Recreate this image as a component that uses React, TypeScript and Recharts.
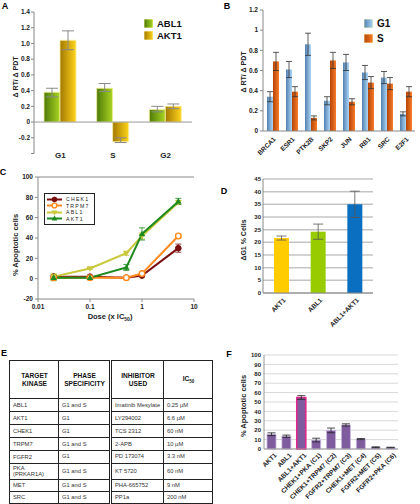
import React from 'react';
import {
  BarChart,
  Bar,
  LineChart,
  Line,
  XAxis,
  YAxis,
  CartesianGrid,
  ErrorBar,
  ReferenceLine,
  Legend,
  Cell,
} from 'recharts';

const FONT = '"Liberation Sans", Arial, Helvetica, sans-serif';

// ---- Panel A : delta RT / delta PDT per phase
const phasesA = ['G1', 'S', 'G2'];
const ablA = [0.38, 0.43, 0.16];
const ablAErr = [[0.06, 0.05], [0.04, 0.06], [0.03, 0.04]];
const aktA = [1.04, -0.25, 0.2];
const aktAErr = [[0.12, 0.12], [0.01, 0.05], [0.03, 0.03]];
const ticksA = [-0.4, -0.2, 0, 0.2, 0.4, 0.6, 0.8, 1.0, 1.2, 1.4];

// ---- Panel B : genes, G1 vs S
const genesB = ['BRCA1', 'ESR1', 'PTK2B', 'SKP2', 'JUN', 'RB1', 'SRC', 'E2F1'];
const g1B = [0.34, 0.61, 0.86, 0.3, 0.68, 0.58, 0.53, 0.17];
const g1BErr = [0.05, 0.08, 0.11, 0.04, 0.08, 0.07, 0.06, 0.02];
const sB = [0.69, 0.39, 0.13, 0.7, 0.29, 0.48, 0.47, 0.39];
const sBErr = [0.09, 0.05, 0.02, 0.08, 0.03, 0.06, 0.06, 0.05];
const ticksB = [0, 0.2, 0.4, 0.6, 0.8, 1, 1.2];

// ---- Panel C : dose response (% apoptotic cells)
const seriesC = ['CHEK1', 'TRPM7', 'ABL1', 'AKT1'];
const doseC = [0.02, 0.1, 0.5, 1, 5];
const chek1C = [2, 2, 1, 3, 30];
const chek1CErr = [1, 1, 1, 1, 4];
const trpm7C = [1, 1, 1, 5, 42];
const trpm7CErr = [1, 1, 1, 1, 2];
const abl1C = [2, 10, 25, 42, 75];
const abl1CErr = [3, 1, 2, 3, 2];
const akt1C = [1, 1, 11, 44, 76];
const akt1CErr = [3, 1, 3, 6, 3];
const ticksCx = [0.01, 0.1, 1, 10];
const ticksCy = [-20, 0, 20, 40, 60, 80, 100];

// ---- Panel D : delta G1 % cells
const condD = ['AKT1', 'ABL1', 'ABL1+AKT1'];
const valD = [21.7, 24.2, 35.0];
const errD = [0.8, 3.0, 5.2];
const colD = ['#ffcc00', '#99cc00', '#0a6fc0'];
const ticksD = [0, 5, 10, 15, 20, 25, 30, 35, 40, 45];

// ---- Panel E : table
const kinasesE = ['ABL1', 'AKT1', 'CHEK1', 'TRPM7', 'FGFR2', 'PKA\n(PRKAR1A)', 'MET', 'SRC'];
const phaseE = ['G1 and S', 'G1', 'G1', 'G1 and S', 'G1', 'G1 and S', 'G1 and S', 'G1 and S'];
const inhibE = ['Imatinib Mesylate', 'LY294002', 'TCS 2312', '2-APB', 'PD 173074', 'KT 5720', 'PHA-665752', 'PP1a'];
const ic50E = ['0.25 µM', '6.6 µM', '60 nM', '10 µM', '3.3 nM', '60 nM', '9 nM', '200 nM'];

// ---- Panel F : combinations, % apoptotic cells
const combF = ['AKT1', 'ABL1', 'ABL1+AKT1', 'CHEK1+PKA (C1)', 'CHEK1+TRPM7 (C2)', 'FGFR2+TRPM7 (C3)', 'CHEK1+MET (C4)', 'FGFR2+MET (C5)', 'FGFR2+PKA (C6)'];
const valF = [15.7, 13.6, 54.8, 9.5, 19.8, 25.6, 10.6, 1.9, 1.6];
const errF = [1.5, 1.2, 2.0, 2.0, 2.5, 1.2, 0.6, 0.4, 0.3];
const ticksF = [0, 10, 20, 30, 40, 50, 60, 70, 80, 90, 100];

const dataA = phasesA.map((p, i) => ({ phase: p, ABL1: ablA[i], ablErr: ablAErr[i], AKT1: aktA[i], aktErr: aktAErr[i] }));
const dataB = genesB.map((g, i) => ({ gene: g, G1: g1B[i], g1Err: g1BErr[i], S: sB[i], sErr: sBErr[i] }));
const dataC = doseC.map((d, i) => ({
  dose: d,
  CHEK1: chek1C[i], chek1Err: chek1CErr[i],
  TRPM7: trpm7C[i], trpm7Err: trpm7CErr[i],
  ABL1: abl1C[i], abl1Err: abl1CErr[i],
  AKT1: akt1C[i], akt1Err: akt1CErr[i],
}));
const dataD = condD.map((c, i) => ({ cond: c, value: valD[i], err: errD[i] }));
const dataF = combF.map((c, i) => ({ comb: c, value: valF[i], err: errF[i] }));

const tickStyle = (fs: number) => ({ fontSize: fs, fontWeight: 'bold' as const, fill: '#222', fontFamily: FONT });

// rotated category labels (end of text sits under the band)
const rotTick = (fs: number, dx: number, dy: number) => (props: any) => {
  const { x, y, payload } = props;
  return (
    <g transform={`translate(${x + dx},${y + dy})`}>
      <text transform="rotate(-45)" textAnchor="end" dy="0.35em" fontSize={fs} fontWeight="bold" fontFamily={FONT} fill="#222">
        {payload.value}
      </text>
    </g>
  );
};

const catTickA = (props: any) => {
  const { x, y, payload } = props;
  return (
    <text x={x} y={y} dy={4} textAnchor="middle" fontSize={8} fontWeight="bold" fontFamily={FONT} fill="#222">
      {payload.value}
    </text>
  );
};

// square legend used by A and B
const SquareLegend = ({ payload, row, sq, fs }: any) => (
  <div style={{ fontFamily: FONT }}>
    {(payload || []).map((p: any) => (
      <div key={p.value} style={{ display: 'flex', alignItems: 'center', height: row }}>
        <svg width={sq} height={sq} style={{ display: 'block', marginRight: 4 }}>
          <rect x={0} y={0} width={sq} height={sq} fill={p.color} stroke="#fff7b0" strokeWidth={0.8} />
        </svg>
        <span style={{ fontSize: fs, fontWeight: 'bold', color: '#111' }}>{p.value}</span>
      </div>
    ))}
  </div>
);

const Title = ({ x, y, text, fs = 7, rot = true, weight = 'bold' }: any) => (
  <div
    style={{
      position: 'absolute', left: x, top: y, whiteSpace: 'nowrap', fontSize: fs, fontWeight: weight,
      color: '#222', fontFamily: FONT,
      transform: `translate(-50%,-50%)${rot ? ' rotate(-90deg)' : ''}`,
    }}
  >
    {text}
  </div>
);

const PanelLetter = ({ x, y, l }: any) => (
  <div style={{ position: 'absolute', left: x, top: y, fontSize: 9, fontWeight: 'bold', fontFamily: FONT, lineHeight: 1, transform: 'translate(-50%,-50%)' }}>{l}</div>
);

function PanelA() {
  return (
    <div style={{ position: 'absolute', left: 0, top: 0, width: 200, height: 170 }}>
      <BarChart width={200} height={170} data={dataA} margin={{ top: 12, right: 8, left: 4, bottom: 2 }} barGap={0} barCategoryGap="20%">
        <defs>
          <linearGradient id="gA_abl" x1="0" y1="0" x2="1" y2="0">
            <stop offset="0%" stopColor="#4c7a08" />
            <stop offset="100%" stopColor="#acd622" />
          </linearGradient>
          <linearGradient id="gA_akt" x1="0" y1="0" x2="1" y2="0">
            <stop offset="0%" stopColor="#a27800" />
            <stop offset="100%" stopColor="#ffd41c" />
          </linearGradient>
        </defs>
        <YAxis
          type="number" domain={[-0.4, 1.4]} ticks={ticksA} interval={0} width={30} allowDataOverflow
          tickFormatter={(v: number) => (Math.abs(v) < 1e-9 ? '0' : Math.abs(v + 0.4) < 1e-9 ? '' : v.toFixed(1))}
          tick={tickStyle(6.5)} tickSize={3} tickMargin={1}
          axisLine={{ stroke: '#888' }} tickLine={{ stroke: '#888' }}
        />
        <XAxis dataKey="phase" axisLine={false} tickLine={false} tickSize={0} tickMargin={0} height={14.5} tick={catTickA} interval={0} />
        <ReferenceLine y={0} stroke="#999" />
        <Bar dataKey="ABL1" name="ABL1" fill="url(#gA_abl)" stroke="#f8f0a0" strokeWidth={0.8} barSize={16} isAnimationActive={false}>
          <ErrorBar dataKey="ablErr" width={6} stroke="#8a8a8a" strokeWidth={1} />
        </Bar>
        <Bar dataKey="AKT1" name="AKT1" fill="url(#gA_akt)" stroke="#f8f0a0" strokeWidth={0.8} barSize={16} isAnimationActive={false}>
          <ErrorBar dataKey="aktErr" width={6} stroke="#8a8a8a" strokeWidth={1} />
        </Bar>
        <Legend
          layout="vertical" align="center" verticalAlign="middle"
          wrapperStyle={{ left: 144, top: 17, width: 50 }}
          content={(p: any) => <SquareLegend payload={p.payload} row={12} sq={9} fs={9.5} />}
        />
      </BarChart>
      <Title x={15} y={77} text="Δ RT/ Δ PDT" fs={7} />
      <PanelLetter x={5} y={6} l="A" />
    </div>
  );
}

function PanelB() {
  return (
    <div style={{ position: 'absolute', left: 210, top: 0, width: 210, height: 170 }}>
      <BarChart width={210} height={170} data={dataB} margin={{ top: 10, right: 5, left: 3, bottom: 2 }} barGap={0} barCategoryGap="18%">
        <defs>
          <linearGradient id="gB_g1" x1="0" y1="0" x2="1" y2="0">
            <stop offset="0%" stopColor="#5280b0" />
            <stop offset="100%" stopColor="#acd6f6" />
          </linearGradient>
          <linearGradient id="gB_s" x1="0" y1="0" x2="1" y2="0">
            <stop offset="0%" stopColor="#b44406" />
            <stop offset="100%" stopColor="#f87c2a" />
          </linearGradient>
        </defs>
        <YAxis
          type="number" domain={[0, 1.2]} ticks={ticksB} interval={0} width={50}
          tick={tickStyle(6.5)} tickSize={3} tickMargin={2}
          axisLine={{ stroke: '#888' }} tickLine={{ stroke: '#888' }}
        />
        <XAxis dataKey="gene" axisLine={{ stroke: '#888' }} tickLine={false} tickSize={0} tickMargin={0} height={37} tick={rotTick(6.5, 2, 7)} interval={0} />
        <Bar dataKey="G1" name="G1" fill="url(#gB_g1)" barSize={6} isAnimationActive={false}>
          <ErrorBar dataKey="g1Err" width={3} stroke="#333" strokeWidth={0.8} />
        </Bar>
        <Bar dataKey="S" name="S" fill="url(#gB_s)" barSize={6} isAnimationActive={false}>
          <ErrorBar dataKey="sErr" width={3} stroke="#333" strokeWidth={0.8} />
        </Bar>
        <Legend
          layout="vertical" align="center" verticalAlign="middle"
          wrapperStyle={{ left: 154, top: 16, width: 40 }}
          content={(p: any) => <SquareLegend payload={p.payload} row={15} sq={9} fs={10} />}
        />
      </BarChart>
      <Title x={33} y={72} text="Δ RT/ Δ PDT" fs={7} />
      <PanelLetter x={17} y={6} l="B" />
    </div>
  );
}

const markerC: Record<string, string> = { CHEK1: 'circle', TRPM7: 'open', ABL1: 'down', AKT1: 'up' };
const colorC: Record<string, string> = { CHEK1: '#7a0f0f', TRPM7: '#ff8a1e', ABL1: '#c8c83a', AKT1: '#1f8a1f' };

const drawMarker = (kind: string, color: string, cx: number, cy: number, r: number, key?: any) => {
  if (kind === 'circle') return <circle key={key} cx={cx} cy={cy} r={r} fill={color} stroke={color} />;
  if (kind === 'open') return <circle key={key} cx={cx} cy={cy} r={r} fill="#fff" stroke={color} strokeWidth={1.4} />;
  if (kind === 'down')
    return <polygon key={key} points={`${cx - r - 0.5},${cy - r + 0.5} ${cx + r + 0.5},${cy - r + 0.5} ${cx},${cy + r + 0.5}`} fill={color} />;
  return <polygon key={key} points={`${cx - r - 0.5},${cy + r - 0.5} ${cx + r + 0.5},${cy + r - 0.5} ${cx},${cy - r - 0.5}`} fill={color} />;
};

const dotC = (name: string) => (props: any) => {
  const { cx, cy, index } = props;
  if (cx == null || cy == null) return <g key={`${name}-${index}`} />;
  return drawMarker(markerC[name], colorC[name], cx, cy, 2.8, `${name}-${index}`);
};

const LineLegend = ({ payload }: any) => {
  const items = [...(payload || [])].sort((a: any, b: any) => seriesC.indexOf(a.value) - seriesC.indexOf(b.value));
  return (
    <div style={{ fontFamily: FONT, border: '1px solid #222', background: '#fff', padding: '2px 4px 2px 2px' }}>
      {items.map((p: any) => (
        <div key={p.value} style={{ display: 'flex', alignItems: 'center', height: 6.5 }}>
          <svg width={15} height={7} style={{ display: 'block', marginRight: 4 }}>
            <line x1={0} y1={3.5} x2={15} y2={3.5} stroke={colorC[p.value]} strokeWidth={2} />
            {drawMarker(markerC[p.value], colorC[p.value], 7.5, 3.5, 2.4)}
          </svg>
          <span style={{ fontSize: 5.2, letterSpacing: 1.2, color: '#222' }}>{p.value}</span>
        </div>
      ))}
    </div>
  );
};

function PanelC() {
  return (
    <div style={{ position: 'absolute', left: 0, top: 170, width: 210, height: 160 }}>
      <LineChart width={210} height={160} data={dataC} margin={{ top: 7, right: 16, left: 2, bottom: 2 }}>
        <XAxis
          dataKey="dose" type="number" scale="log" domain={[0.01, 10]} ticks={ticksCx} interval={0} allowDataOverflow
          height={29} tick={tickStyle(6.5)} tickSize={3} tickMargin={2}
          axisLine={{ stroke: '#888' }} tickLine={{ stroke: '#888' }}
        />
        <YAxis
          type="number" domain={[-20, 100]} ticks={ticksCy} interval={0} width={36}
          tick={tickStyle(6.5)} tickSize={3} tickMargin={2}
          axisLine={{ stroke: '#888' }} tickLine={{ stroke: '#888' }}
        />
        <YAxis yAxisId="r" orientation="right" width={0} domain={[0, 1]} tick={false} tickLine={false} axisLine={{ stroke: '#888' }} />
        <ReferenceLine y={100} stroke="#888" />
        {seriesC.map((s) => (
          <Line
            key={s} dataKey={s} name={s} stroke={colorC[s]} strokeWidth={2} dot={dotC(s)}
            activeDot={false} isAnimationActive={false}
          >
            <ErrorBar dataKey={`${s.toLowerCase()}Err`} direction="y" width={3} stroke={colorC[s]} strokeWidth={0.8} />
          </Line>
        ))}
        <Legend
          layout="vertical" align="center" verticalAlign="middle"
          wrapperStyle={{ left: 44, top: 23, width: 'auto' }}
          content={(p: any) => <LineLegend payload={p.payload} />}
        />
      </LineChart>
      <Title x={15} y={75} text="% Apoptotic cells" fs={7.5} />
      <div style={{ position: 'absolute', left: 110, top: 147, transform: 'translate(-50%,-50%)', whiteSpace: 'nowrap', fontSize: 7.5, fontWeight: 'bold', fontFamily: FONT, color: '#222' }}>
        Dose (x IC<sub style={{ fontSize: 5 }}>50</sub>)
      </div>
      <PanelLetter x={3} y={2} l="C" />
    </div>
  );
}

function PanelD() {
  return (
    <div style={{ position: 'absolute', left: 210, top: 170, width: 210, height: 165 }}>
      <BarChart width={210} height={165} data={dataD} margin={{ top: 9, right: 47, left: 3, bottom: 2 }} barCategoryGap="30%">
        <CartesianGrid vertical={false} stroke="#c4c4c4" strokeWidth={1.5} />
        <YAxis
          type="number" domain={[0, 45]} ticks={ticksD} interval={0} width={50}
          tick={tickStyle(6)} tickSize={0} tickMargin={2}
          axisLine={{ stroke: '#888' }} tickLine={false}
        />
        <YAxis yAxisId="r" orientation="right" width={0} domain={[0, 1]} tick={false} tickLine={false} axisLine={{ stroke: '#888' }} />
        <XAxis dataKey="cond" axisLine={{ stroke: '#888' }} tickLine={false} tickSize={0} tickMargin={0} height={40} tick={rotTick(6.5, 3, 6)} interval={0} />
        <Bar dataKey="value" barSize={15} isAnimationActive={false}>
          {dataD.map((d, i) => (
            <Cell key={d.cond} fill={colD[i]} />
          ))}
          <ErrorBar dataKey="err" width={5} stroke="#555" strokeWidth={0.8} />
        </Bar>
      </BarChart>
      <Title x={33} y={70} text="ΔG1 % Cells" fs={7} />
      <PanelLetter x={14} y={21} l="D" />
    </div>
  );
}

function PanelE() {
  const cell: React.CSSProperties = {
    border: '1px solid #222', padding: '0 2px 0 3px', fontSize: 5.8, color: '#333', textAlign: 'left',
    verticalAlign: 'middle', lineHeight: 1.2, whiteSpace: 'nowrap', overflow: 'hidden',
  };
  const head: React.CSSProperties = {
    ...cell, fontWeight: 'bold', color: '#111', textAlign: 'center', fontSize: 6.6, whiteSpace: 'normal',
    borderBottom: '1.5px solid #222', lineHeight: 1.2,
  };
  const dbl: React.CSSProperties = { borderLeft: '3px double #222' };
  const rowH = [13, 13, 13, 13, 12.5, 16, 12, 12];
  return (
    <div style={{ position: 'absolute', left: 0, top: 340, width: 215, height: 164 }}>
      <PanelLetter x={4} y={13} l="E" />
      <table
        style={{ position: 'absolute', left: 9, top: 20, width: 203, borderCollapse: 'collapse', tableLayout: 'fixed', fontFamily: FONT, border: '1.5px solid #222' }}
      >
        <colgroup>
          <col style={{ width: 49 }} />
          <col style={{ width: 52 }} />
          <col style={{ width: 53 }} />
          <col style={{ width: 49 }} />
        </colgroup>
        <thead>
          <tr style={{ height: 38 }}>
            <th style={head}>TARGET KINASE</th>
            <th style={head}>PHASE SPECIFICITY</th>
            <th style={{ ...head, ...dbl }}>INHIBITOR USED</th>
            <th style={head}>
              IC<sub style={{ fontSize: 4.5 }}>50</sub>
            </th>
          </tr>
        </thead>
        <tbody>
          {kinasesE.map((k, i) => (
            <tr key={k} style={{ height: rowH[i] }}>
              <td style={{ ...cell, whiteSpace: 'pre-line', lineHeight: 1.1 }}>{k}</td>
              <td style={cell}>{phaseE[i]}</td>
              <td style={{ ...cell, ...dbl }}>{inhibE[i]}</td>
              <td style={cell}>{ic50E[i]}</td>
            </tr>
          ))}
        </tbody>
      </table>
    </div>
  );
}

function PanelF() {
  return (
    <div style={{ position: 'absolute', left: 210, top: 340, width: 210, height: 164 }}>
      <BarChart width={210} height={164} data={dataF} margin={{ top: 15, right: 22, left: 4, bottom: 2 }} barCategoryGap="22%">
        <CartesianGrid vertical={false} stroke="#d8d8d8" />
        <YAxis
          type="number" domain={[0, 100]} ticks={ticksF} interval={0} width={50}
          tick={tickStyle(6)} tickSize={0} tickMargin={3}
          axisLine={{ stroke: '#999' }} tickLine={false}
        />
        <XAxis dataKey="comb" axisLine={{ stroke: '#999' }} tickLine={false} tickSize={0} tickMargin={0} height={53} tick={rotTick(6.5, 4, 5)} interval={0} />
        <Bar dataKey="value" barSize={9} isAnimationActive={false}>
          {dataF.map((d) => (
            <Cell
              key={d.comb}
              fill="#7f5c9e"
              stroke={d.comb === 'ABL1+AKT1' ? '#dd2a8c' : '#c9b8e0'}
              strokeWidth={d.comb === 'ABL1+AKT1' ? 1.6 : 0.8}
            />
          ))}
          <ErrorBar dataKey="err" width={4} stroke="#222" strokeWidth={0.8} />
        </Bar>
      </BarChart>
      <Title x={33} y={66} text="% Apoptotic cells" fs={7.5} />
      <PanelLetter x={19} y={14} l="F" />
    </div>
  );
}

export default function App() {
  return (
    <div style={{ position: 'absolute', left: 0, top: 0, width: 420, height: 504, background: '#fff', overflow: 'hidden', fontFamily: FONT }}>
      <PanelA />
      <PanelB />
      <PanelC />
      <PanelD />
      <PanelE />
      <PanelF />
    </div>
  );
}
